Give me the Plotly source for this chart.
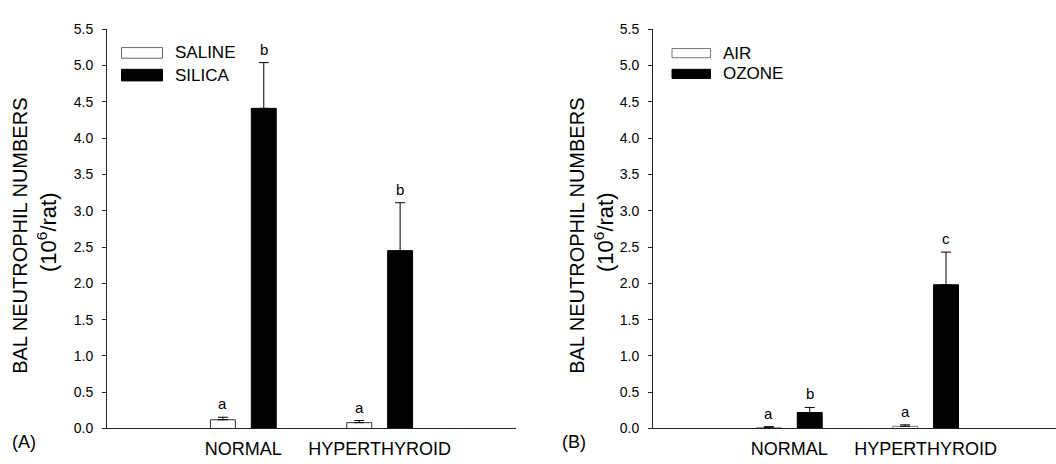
import plotly.graph_objects as go

# ---- data ----
categories = ["NORMAL", "HYPERTHYROID"]

# Panel A
a_names = ["SALINE", "SILICA"]
a_saline = [0.12, 0.08]
a_saline_err = [0.035, 0.03]
a_silica = [4.41, 2.45]
a_silica_err = [0.63, 0.66]
a_saline_letters = ["a", "a"]
a_silica_letters = ["b", "b"]

# Panel B
b_names = ["AIR", "OZONE"]
b_air = [0.01, 0.03]
b_air_err = [0.015, 0.02]
b_ozone = [0.22, 1.98]
b_ozone_err = [0.07, 0.45]
b_air_letters = ["a", "a"]
b_ozone_letters = ["b", "c"]

y_ticks = [0.0, 0.5, 1.0, 1.5, 2.0, 2.5, 3.0, 3.5, 4.0, 4.5, 5.0, 5.5]
panel_labels = ["(A)", "(B)"]
y_title_1 = "BAL NEUTROPHIL NUMBERS"
y_title_2 = "(10<sup>6</sup>/rat)"

FONT = "Arial, 'Liberation Sans', Helvetica, sans-serif"
W, H = 1056, 464

fig = go.Figure()

def add_pair(vals1, err1, vals2, err2, names, xa, ya, edge1):
    fig.add_trace(go.Bar(
        x=categories, y=vals1, name=names[0], xaxis=xa, yaxis=ya,
        marker=dict(color="white", line=dict(color=edge1, width=1)),
        error_y=dict(type="data", symmetric=False, array=err1,
                     arrayminus=[0] * len(err1), color="#000", thickness=1, width=5),
        offsetgroup="1", showlegend=False))
    fig.add_trace(go.Bar(
        x=categories, y=vals2, name=names[1], xaxis=xa, yaxis=ya,
        marker=dict(color="black", line=dict(color="black", width=1)),
        error_y=dict(type="data", symmetric=False, array=err2,
                     arrayminus=[0] * len(err2), color="#000", thickness=1, width=5),
        offsetgroup="2", showlegend=False))

add_pair(a_saline, a_saline_err, a_silica, a_silica_err, a_names, "x", "y", "#333")
add_pair(b_air, b_air_err, b_ozone, b_ozone_err, b_names, "x2", "y2", "#777")

y_dom = [28.5 / H, 442 / H]
xaxis_common = dict(type="category", showline=True, linecolor="#222", linewidth=1,
                    ticks="", showgrid=False, zeroline=False,
                    tickfont=dict(family=FONT, size=18, color="#000"),
                    ticklabelstandoff=4)
yaxis_common = dict(range=[0, 5.5], tickvals=y_ticks, tickformat=".1f",
                    showline=True, linecolor="#222", linewidth=1,
                    ticks="outside", ticklen=4, tickcolor="#222",
                    showgrid=False, zeroline=False,
                    tickfont=dict(family=FONT, size=14, color="#000"),
                    ticklabelstandoff=6, domain=y_dom)

fig.update_layout(
    width=W, height=H,
    margin=dict(l=0, r=0, t=0, b=0),
    paper_bgcolor="white", plot_bgcolor="white",
    barmode="group", bargap=0.4, bargroupgap=0.39,
    xaxis=dict(domain=[107 / W, 516 / W], range=[-1, 2], anchor="y", **xaxis_common),
    yaxis=dict(anchor="x", **yaxis_common),
    xaxis2=dict(domain=[653 / W, 1.0], range=[-1, 1.957], anchor="y2", **xaxis_common),
    yaxis2=dict(anchor="x2", **yaxis_common),
    font=dict(family=FONT, color="#000"),
)

# significance letters above error bars
def add_letters(vals, errs, letters, offset, xa, ya):
    for i, (v, e, t) in enumerate(zip(vals, errs, letters)):
        fig.add_annotation(x=i + offset, y=v + e, xref=xa, yref=ya, text=t,
                           showarrow=False, yanchor="bottom", yshift=3,
                           font=dict(family=FONT, size=15, color="#000"))

add_letters(a_saline, a_saline_err, a_saline_letters, -0.15, "x", "y")
add_letters(a_silica, a_silica_err, a_silica_letters, 0.15, "x", "y")
add_letters(b_air, b_air_err, b_air_letters, -0.15, "x2", "y2")
add_letters(b_ozone, b_ozone_err, b_ozone_letters, 0.15, "x2", "y2")

# manual legends (wide swatches)
def add_legend(names, x0px, w, edge1, tops):
    fills = ["white", "black"]
    edges = [edge1, "black"]
    for name, fill, edge, (t, b) in zip(names, fills, edges, tops):
        fig.add_shape(type="rect", xref="paper", yref="paper",
                      x0=x0px / W, x1=(x0px + w) / W, y0=1 - b / H, y1=1 - t / H,
                      fillcolor=fill, line=dict(color=edge, width=1))
        fig.add_annotation(xref="paper", yref="paper", x=(x0px + w + 10) / W,
                           y=1 - (t + b) / 2 / H, text=name, showarrow=False,
                           xanchor="left", yanchor="middle",
                           font=dict(family=FONT, size=17, color="#000"))

add_legend(a_names, 121.5, 41, "#666", [(41, 52), (63.5, 75.5)])
add_legend(b_names, 672, 38.5, "#777", [(42, 51.5), (63.5, 73)])

# y-axis titles
for x_l1, x_l2 in [(20, 47), (577, 604)]:
    fig.add_annotation(xref="paper", yref="paper", x=x_l1 / W, y=1 - 236 / H,
                       text=y_title_1, textangle=-90, showarrow=False,
                       xanchor="center", yanchor="middle",
                       font=dict(family=FONT, size=20, color="#000"))
    fig.add_annotation(xref="paper", yref="paper", x=x_l2 / W, y=1 - 233 / H,
                       text=y_title_2, textangle=-90, showarrow=False,
                       xanchor="center", yanchor="middle",
                       font=dict(family=FONT, size=22, color="#000"))

# panel labels
for lbl, xc in zip(panel_labels, [24, 574]):
    fig.add_annotation(xref="paper", yref="paper", x=xc / W, y=1 - 449 / H,
                       text=lbl, showarrow=False, xanchor="center", yanchor="middle",
                       font=dict(family=FONT, size=18, color="#000"))

page_js = """
document.documentElement.style.margin='0';
document.body.style.margin='0';
document.body.style.overflow='hidden';
"""
fig.write_html("out.html", post_script=page_js, config={"displayModeBar": False})
